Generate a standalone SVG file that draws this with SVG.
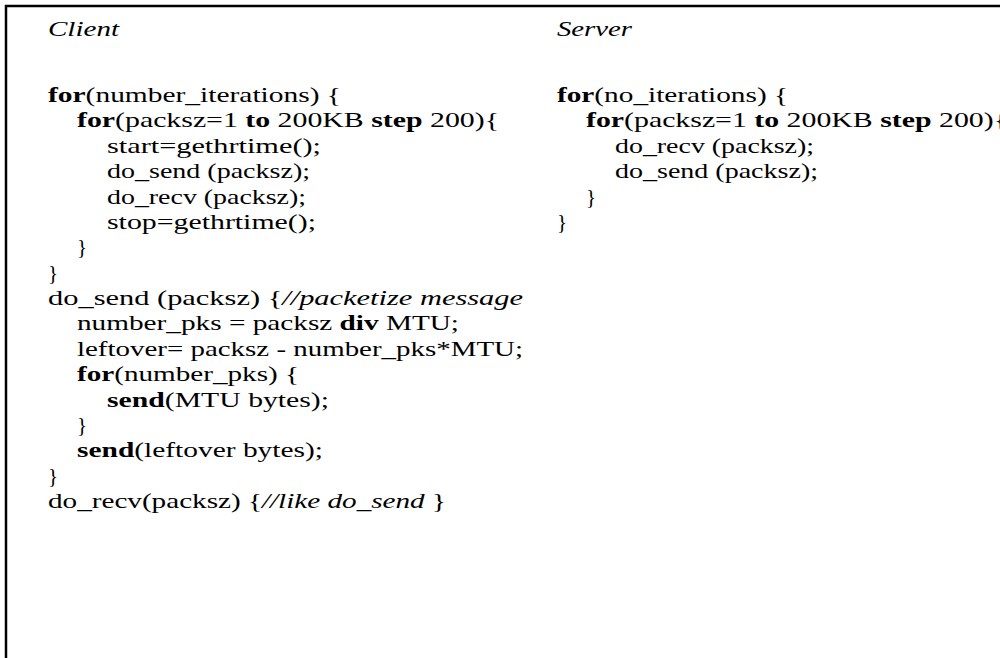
<svg xmlns="http://www.w3.org/2000/svg" width="1000" height="658" viewBox="0 0 1000 658">
<style>
text{font-family:"Liberation Serif","DejaVu Serif",serif;font-size:21px;fill:#000}
.b{font-weight:bold}
.i{font-style:italic}
.frame{stroke:#000;stroke-width:2.5;fill:none}
</style>
<rect width="1000" height="658" fill="#fff"/>
<path class="frame" d="M6,658 V6 H1000"/>
<g id="client">
<text x="48" y="36" class="i" textLength="71" lengthAdjust="spacingAndGlyphs">Client</text>
<text x="48" y="102" textLength="293" lengthAdjust="spacingAndGlyphs"><tspan class="b">for</tspan>(number_iterations) {</text>
<text x="77" y="127.4" textLength="422" lengthAdjust="spacingAndGlyphs"><tspan class="b">for</tspan>(packsz=1 <tspan class="b">to</tspan> 200KB <tspan class="b">step</tspan> 200){</text>
<text x="107" y="152.8" textLength="214" lengthAdjust="spacingAndGlyphs">start=gethrtime();</text>
<text x="107" y="178.1" textLength="203" lengthAdjust="spacingAndGlyphs">do_send (packsz);</text>
<text x="107" y="203.5" textLength="199" lengthAdjust="spacingAndGlyphs">do_recv (packsz);</text>
<text x="107" y="228.9" textLength="209" lengthAdjust="spacingAndGlyphs">stop=gethrtime();</text>
<text x="77" y="254.3">}</text>
<text x="48" y="279.6">}</text>
<text x="48" y="305" textLength="475" lengthAdjust="spacingAndGlyphs">do_send (packsz) {<tspan class="i">//packetize message</tspan></text>
<text x="77" y="330.4" textLength="382" lengthAdjust="spacingAndGlyphs">number_pks = packsz <tspan class="b">div</tspan> MTU;</text>
<text x="77" y="355.8" textLength="446" lengthAdjust="spacingAndGlyphs">leftover= packsz - number_pks*MTU;</text>
<text x="77" y="381.1" textLength="222" lengthAdjust="spacingAndGlyphs"><tspan class="b">for</tspan>(number_pks) {</text>
<text x="107" y="406.5" textLength="222" lengthAdjust="spacingAndGlyphs"><tspan class="b">send</tspan>(MTU bytes);</text>
<text x="77" y="431.9">}</text>
<text x="77" y="457.3" textLength="246" lengthAdjust="spacingAndGlyphs"><tspan class="b">send</tspan>(leftover bytes);</text>
<text x="48" y="482.6">}</text>
<text x="48" y="508" textLength="398" lengthAdjust="spacingAndGlyphs">do_recv(packsz) {<tspan class="i">//like do_send</tspan> }</text>
</g>
<g id="server">
<text x="557" y="36" class="i" textLength="75" lengthAdjust="spacingAndGlyphs">Server</text>
<text x="557" y="102" textLength="231" lengthAdjust="spacingAndGlyphs"><tspan class="b">for</tspan>(no_iterations) {</text>
<text x="586" y="127.4" textLength="422" lengthAdjust="spacingAndGlyphs"><tspan class="b">for</tspan>(packsz=1 <tspan class="b">to</tspan> 200KB <tspan class="b">step</tspan> 200){</text>
<text x="615" y="152.8" textLength="199" lengthAdjust="spacingAndGlyphs">do_recv (packsz);</text>
<text x="615" y="178.1" textLength="203" lengthAdjust="spacingAndGlyphs">do_send (packsz);</text>
<text x="586" y="203.5">}</text>
<text x="557" y="228.9">}</text>
</g>
</svg>
